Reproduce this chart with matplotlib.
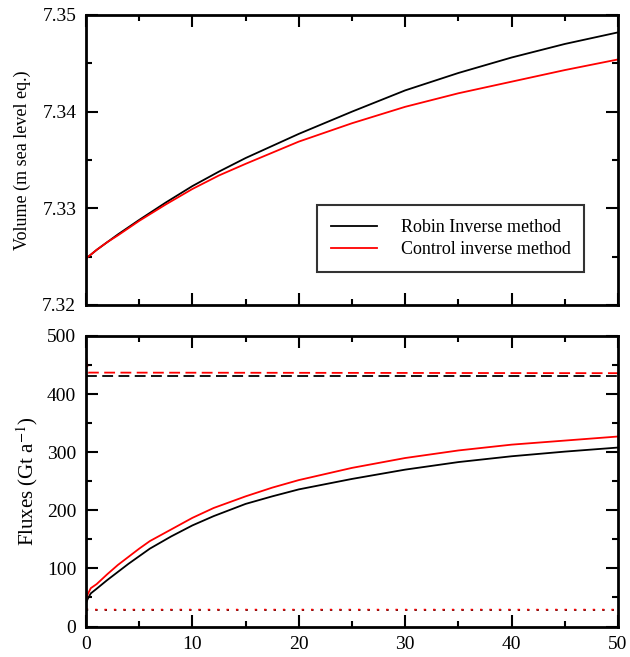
import numpy as np
import matplotlib
matplotlib.use('Agg')
import matplotlib.pyplot as plt
from matplotlib.ticker import MultipleLocator

plt.rcParams['font.family'] = ['Liberation Serif', 'DejaVu Serif']
plt.rcParams['mathtext.fontset'] = 'stix'

# volume (m sea level eq.)
t_vol = [0, 1, 2, 3, 5, 7.5, 10, 12.5, 15, 20, 25, 30, 35, 40, 45, 50]
vol_robin = [7.3248, 7.3257, 7.3265, 7.3273, 7.3288, 7.3306, 7.3323, 7.3338,
             7.3352, 7.3377, 7.3400, 7.3422, 7.3440, 7.3456, 7.3470, 7.3482]
vol_control = [7.3248, 7.3257, 7.3265, 7.3272, 7.3287, 7.3304, 7.3320, 7.3334,
               7.3346, 7.3369, 7.3388, 7.3405, 7.3419, 7.3431, 7.3443, 7.3454]

# fluxes (Gt/a)
t_flux = [0, 0.15, 0.45, 1, 2, 3, 4, 5, 6, 8, 10, 12, 15, 17.5, 20, 25, 30,
          35, 40, 45, 50]
flux_robin = [40, 47, 57, 65, 80, 94, 108, 121, 134, 155, 174, 190, 211, 224,
              236, 254, 270, 283, 293, 301, 308]
flux_control = [42, 55, 66, 73, 90, 106, 120, 134, 147, 167, 187, 204, 224,
                239, 252, 273, 290, 303, 313, 320, 327]

t_const = [0, 0.2, 50]
smb_robin = [432, 432, 432]
smb_control = [465, 437, 436]
low_robin = [28, 28, 28]
low_control = [31, 29, 29]

fig = plt.figure(figsize=(6.3, 6.57), dpi=100)
ax1 = fig.add_axes([0.1365, 0.5358, 0.8444, 0.4414])
ax2 = fig.add_axes([0.1365, 0.0464, 0.8444, 0.4422])

lw = 1.3
ax1.plot(t_vol, vol_robin, color='black', lw=lw, label='Robin Inverse method')
ax1.plot(t_vol, vol_control, color='red', lw=lw, label='Control inverse method')
ax1.set_ylim(7.32, 7.35)
ax1.set_yticks([7.32, 7.33, 7.34, 7.35])
ax1.yaxis.set_minor_locator(MultipleLocator(0.005))
ax1.set_xticklabels([])
ax1.set_ylabel('Volume (m sea level eq.)', fontsize=13, labelpad=8)
leg = ax1.legend(loc='lower right', bbox_to_anchor=(0.936, 0.114), fontsize=13,
                 frameon=True, fancybox=False, edgecolor='black',
                 handlelength=2.55, handletextpad=1.3, borderpad=0.75,
                 labelspacing=0.3, borderaxespad=0)
leg.get_frame().set_linewidth(1.5)

ax2.plot(t_flux, flux_robin, color='black', lw=lw)
ax2.plot(t_flux, flux_control, color='red', lw=lw)
ax2.plot(t_const, smb_robin, color='black', lw=lw, dashes=(6, 3))
ax2.plot(t_const, smb_control, color='red', lw=lw, dashes=(6, 3))
ax2.plot(t_const, low_robin, color='black', lw=lw, dashes=(1.2, 4))
ax2.plot(t_const, low_control, color='red', lw=lw, dashes=(1.2, 4))
ax2.set_ylim(0, 500)
ax2.yaxis.set_major_locator(MultipleLocator(100))
ax2.yaxis.set_minor_locator(MultipleLocator(50))
ax2.set_ylabel(r'Fluxes (Gt a$^{-1}$)', fontsize=15, labelpad=5)

for ax in (ax1, ax2):
    ax.set_xlim(0, 50)
    ax.xaxis.set_major_locator(MultipleLocator(10))
    ax.xaxis.set_minor_locator(MultipleLocator(5))
    ax.tick_params(which='both', direction='in', top=True, right=True,
                   width=1.5, labelsize=14)
    ax.tick_params(which='major', length=8.6, pad=7)
    ax.tick_params(which='minor', length=4.3)
    for s in ax.spines.values():
        s.set_linewidth(2)

fig.savefig('out.png', dpi=100)
